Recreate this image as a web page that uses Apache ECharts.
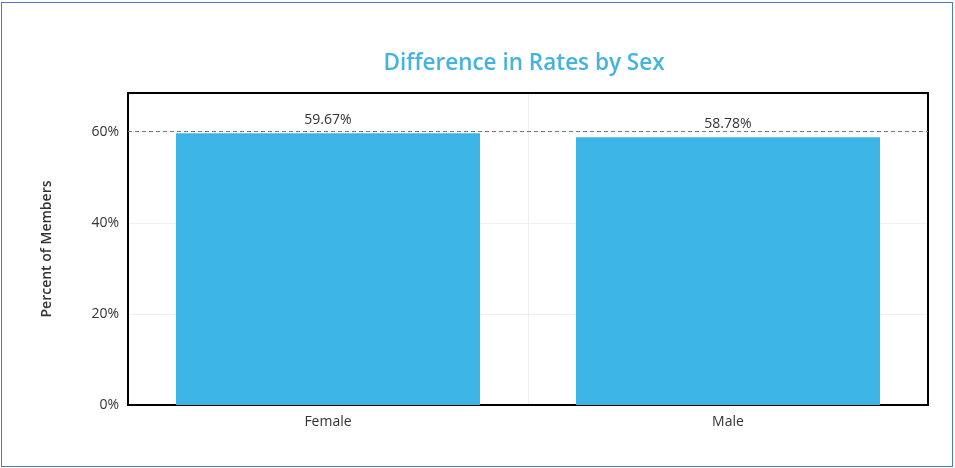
<!DOCTYPE html>
<html>
<head>
<meta charset="utf-8">
<script src="https://cdn.jsdelivr.net/npm/echarts@6/dist/echarts.min.js"></script>
<style>
html,body{margin:0;padding:0;background:#fff;}
#frame{position:absolute;left:1px;top:2px;width:952px;height:465px;border:1.5px solid #4a78cf;box-sizing:border-box;pointer-events:none;z-index:2;}
#main{position:absolute;left:0;top:0;width:955px;height:468px;}
</style>
</head>
<body>
<div id="main"></div>
<div id="frame"></div>
<script>
const categories = ['Female', 'Male'];
const values = [59.67, 58.78];
const yTicks = [0, 20, 40, 60];
const refLine = 60;

const frameLine = { show: true, onZero: false, lineStyle: { color: '#000', width: 2 } };
const chart = echarts.init(document.getElementById('main'));
chart.setOption({
  animation: false,
  title: {
    text: 'Difference in Rates by Sex',
    left: 519, top: 47, textAlign: 'center',
    textStyle: { color: '#45b3e0', fontSize: 22.5, fontWeight: 600, fontFamily: 'Open Sans' }
  },
  grid: {
    left: 128, right: 27, top: 93, bottom: 63,
    show: false
  },
  xAxis: [{
    type: 'category', data: categories,
    axisLine: frameLine, axisTick: { show: false },
    splitLine: { show: true, lineStyle: { color: '#eeeeee', width: 1 } },
    axisLabel: { color: '#333', fontSize: 14, fontFamily: 'Open Sans', margin: 10 }
  }, {
    type: 'category', data: categories, position: 'top',
    axisLine: frameLine, axisTick: { show: false }, axisLabel: { show: false }, splitLine: { show: false }
  }],
  yAxis: [{
    type: 'value', min: 0, max: 68.5, interval: 20,
    name: 'Percent of Members', nameLocation: 'middle', nameGap: 74,
    nameTextStyle: { color: '#333', fontSize: 14, fontWeight: 600, fontFamily: 'Open Sans' },
    axisLine: frameLine, axisTick: { show: false },
    axisLabel: {
      color: '#333', fontSize: 14, fontFamily: 'Open Sans', margin: 9,
      formatter: v => (yTicks.indexOf(v) >= 0 ? v + '%' : '')
    },
    splitLine: { show: true, lineStyle: { color: '#f0f0f0', width: 1 } }
  }, {
    type: 'value', min: 0, max: 68.5, interval: 20, position: 'right',
    axisLine: frameLine, axisTick: { show: false }, axisLabel: { show: false }, splitLine: { show: false }
  }],
  series: [{
    type: 'bar', data: values, barWidth: '76%',
    itemStyle: { color: '#3cb4e5' },
    label: {
      show: true, position: 'top', distance: 6, color: '#333', fontSize: 14, fontFamily: 'Open Sans',
      formatter: p => p.value.toFixed(2) + '%'
    },
    markLine: {
      silent: true, symbol: 'none', label: { show: false },
      lineStyle: { color: '#777', type: [4, 3], width: 1.2 },
      data: [{ yAxis: refLine }]
    }
  }]
});
</script>
</body>
</html>
